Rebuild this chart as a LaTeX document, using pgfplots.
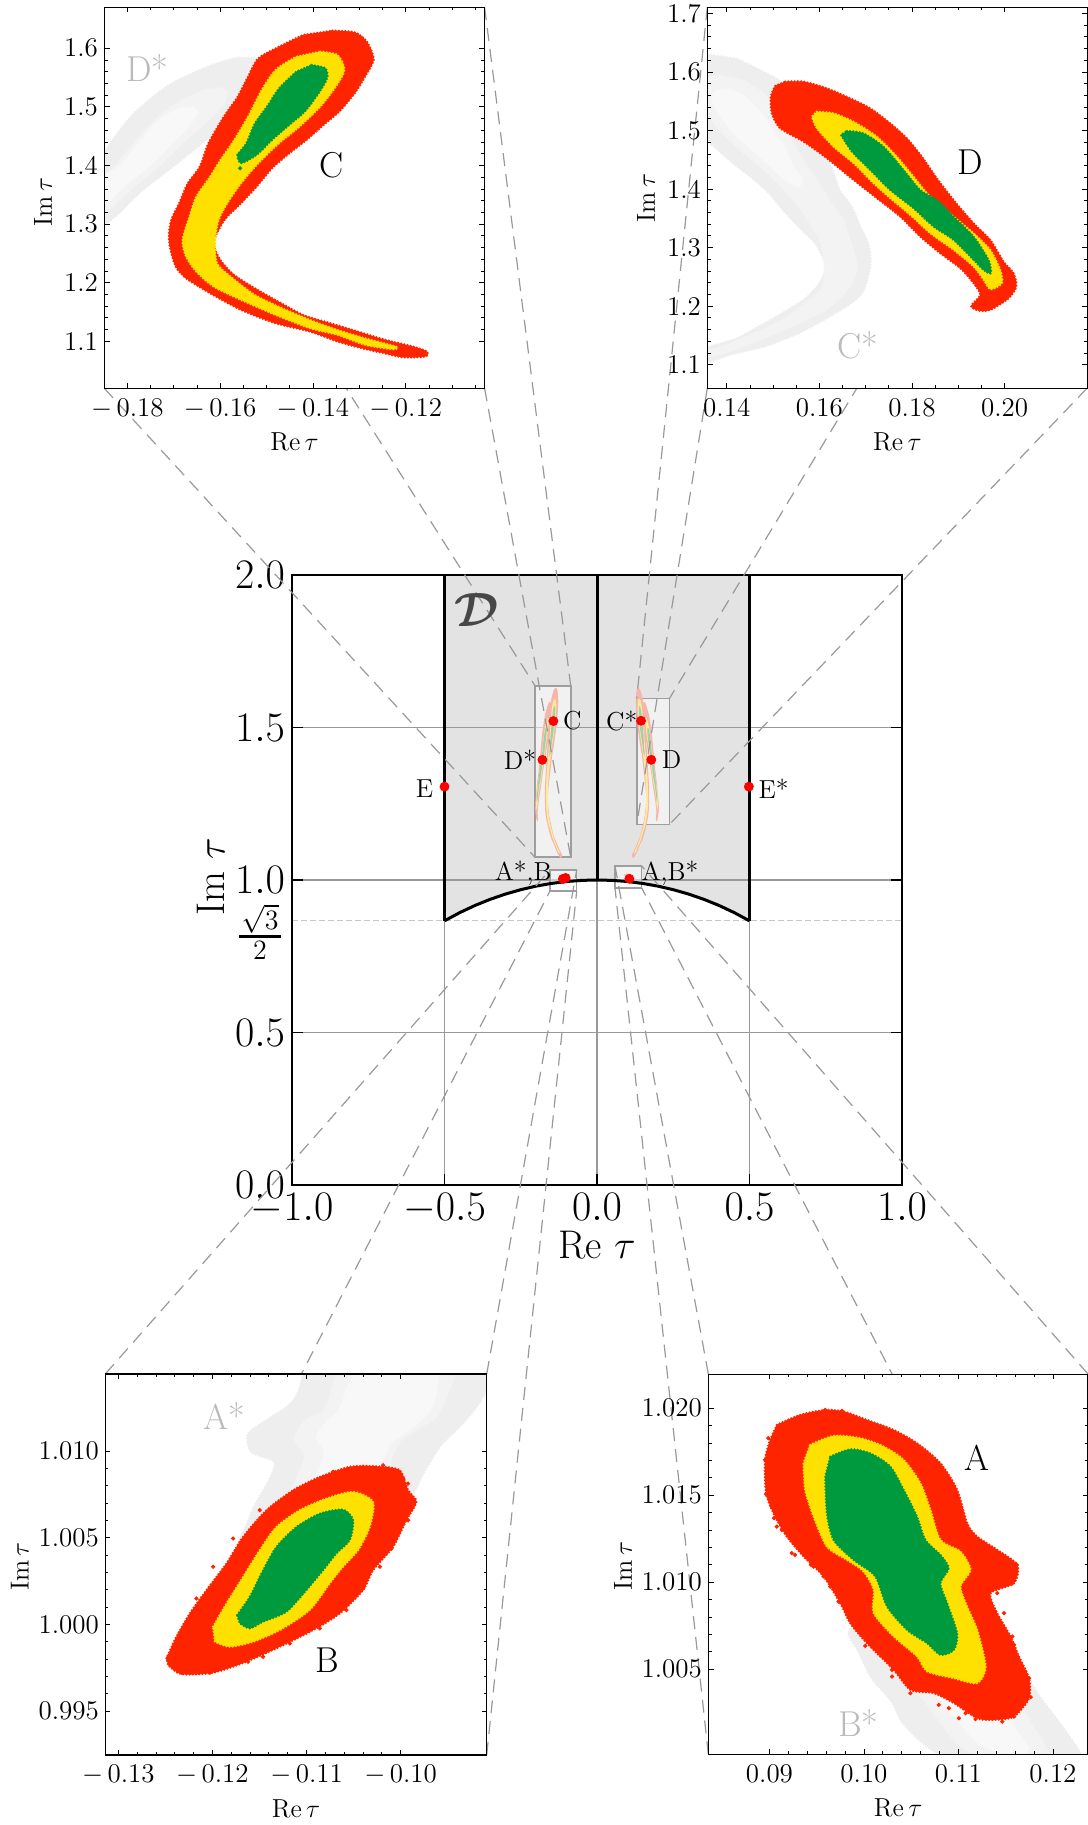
\RequirePackage{fix-cm}
\documentclass[border=0pt]{standalone}
\usepackage{amsmath}
\usepackage{pgfplots}
\usepackage{pgfplotstable}
\pgfplotsset{compat=1.18}
\newcommand{\fs}[1]{\fontsize{#1}{#1}\selectfont}
\definecolor{rr}{HTML}{FF2400}
\definecolor{yy}{HTML}{FFE100}
\definecolor{gg}{HTML}{009A3E}
\definecolor{rp}{HTML}{F6B4AB}
\definecolor{yp}{HTML}{FBEA9A}
\definecolor{gp}{HTML}{9FD2AC}
\definecolor{g1}{HTML}{EEEEEE}
\definecolor{g2}{HTML}{F3F3F3}
\definecolor{g3}{HTML}{F8F8F8}
\definecolor{ln}{HTML}{999999}

% region C
\pgfplotstableread{
x y
-.1358 1.6301
-.13098 1.6273
-.12839 1.6114
-.12690 1.5812
-.12876 1.5517
-.13098 1.5233
-.13433 1.4919
-.13730 1.4720
-.14138 1.4436
-.14510 1.4208
-.14881 1.3952
-.15215 1.3639
-.15549 1.3355
-.15846 1.3127
-.15995 1.2957
-.16143 1.2673
-.15995 1.2388
-.15698 1.2132
-.15252 1.1905
-.14807 1.1705
-.14212 1.1450
-.13618 1.1307
-.13024 1.1165
-.12430 1.1023
-.11836 1.0909
-.11539 1.0824
-.11576 1.0739
-.12059 1.0727
-.12467 1.0796
-.12950 1.0881
-.13470 1.0995
-.14064 1.1165
-.14807 1.1307
-.15549 1.1535
-.16218 1.1819
-.16737 1.2075
-.16960 1.2274
-.17072 1.2559
-.17109 1.2786
-.17057 1.3071
-.16886 1.3355
-.16700 1.3696
-.16440 1.3981
-.16255 1.4379
-.15921 1.4834
-.15623 1.5175
-.15401 1.5517
-.15178 1.5829
-.14732 1.6028
-.14212 1.6228
}\tabCr
\pgfplotstableread{
x y
-.13841 1.5943
-.13470 1.5886
-.13321 1.5630
-.13507 1.5346
-.13841 1.5005
-.14287 1.4664
-.14732 1.4379
-.15178 1.4038
-.15549 1.3696
-.15846 1.3355
-.16032 1.3071
-.16106 1.2729
-.16069 1.2331
-.15772 1.2104
-.15252 1.1791
-.14658 1.1563
-.14064 1.1364
-.13470 1.1194
-.12876 1.1051
-.12207 1.0909
-.12281 1.0864
-.12876 1.0938
-.13470 1.1108
-.14064 1.1222
-.14807 1.1449
-.15549 1.1705
-.16143 1.1933
-.16515 1.2189
-.16737 1.2445
-.16812 1.2729
-.16663 1.3127
-.16515 1.3469
-.16218 1.3810
-.15995 1.4094
-.15698 1.4436
-.15401 1.4834
-.15104 1.5289
-.14807 1.5630
-.14361 1.5858
}\tabCy
\pgfplotstableread{
x y
-.14027 1.5716
-.13730 1.5659
-.13693 1.5488
-.13878 1.5232
-.14175 1.4919
-.14510 1.4692
-.14881 1.4436
-.15215 1.4180
-.15549 1.4038
-.15623 1.4180
-.15438 1.4379
-.15252 1.4720
-.14992 1.5005
-.14732 1.5317
-.14361 1.5602
}\tabCg

% region D
\pgfplotstableread{
x y
.15261 1.5835
.15657 1.5835
.16161 1.5721
.16665 1.5550
.17097 1.5379
.17529 1.5123
.17890 1.4867
.18214 1.4554
.18538 1.4183
.18898 1.3813
.19330 1.3415
.19690 1.3130
.19979 1.2760
.20195 1.2560
.20252 1.2333
.20087 1.2133
.19690 1.1934
.19438 1.1923
.19273 1.2002
.19474 1.2190
.19330 1.2390
.19042 1.2646
.18610 1.2902
.18178 1.3187
.17746 1.3528
.17241 1.3842
.16737 1.4155
.16161 1.4525
.15657 1.4810
.15152 1.5038
.14972 1.5294
.14951 1.5579
.15044 1.5761
}\tabDr
\pgfplotstableread{
x y
.15945 1.5322
.16305 1.5294
.16737 1.5151
.17241 1.4895
.17674 1.4554
.18034 1.4212
.18394 1.3870
.18898 1.3528
.19330 1.3244
.19690 1.2959
.19906 1.2617
.19943 1.2390
.19690 1.2287
.19546 1.2447
.19330 1.2674
.18898 1.2959
.18394 1.3244
.17962 1.3557
.17529 1.3842
.17169 1.4098
.16737 1.4440
.16305 1.4724
.15945 1.5038
.15837 1.5237
}\tabDy
\pgfplotstableread{
x y
.16593 1.4992
.16953 1.4952
.17385 1.4724
.17818 1.4326
.18178 1.3984
.18538 1.3813
.18898 1.3528
.19330 1.3187
.19654 1.2788
.19705 1.2560
.19546 1.2617
.19330 1.2788
.18898 1.3130
.18466 1.3358
.18034 1.3671
.17529 1.3984
.17025 1.4383
.16701 1.4639
.16463 1.4924
}\tabDg

% region B
\pgfplotstableread{
x y
-.12489 .99804
-.12383 .99929
-.12241 1.00063
-.12064 1.00198
-.11851 1.00352
-.11674 1.00506
-.11426 1.00660
-.11143 1.00775
-.10859 1.00852
-.10541 1.00910
-.10257 1.00913
-.10009 1.00890
-.09921 1.00775
-.09832 1.00708
-.09939 1.00602
-.10080 1.00448
-.10293 1.00313
-.10399 1.00198
-.10647 1.00063
-.10930 .99967
-.11285 .99871
-.11639 .99785
-.11993 .99721
-.12329 .99713
-.12471 .99765
}\tabBr
\pgfplotstableread{
x y
-.11993 .99987
-.11851 1.00121
-.11674 1.00275
-.11497 1.00429
-.11320 1.00563
-.11072 1.00660
-.10789 1.00727
-.10505 1.00765
-.10293 1.00708
-.10328 1.00563
-.10452 1.00429
-.10612 1.00333
-.10753 1.00237
-.10966 1.00083
-.11285 .99967
-.11568 .99900
-.11816 .99871
-.11975 .99900
}\tabBy
\pgfplotstableread{
x y
-.11738 1.00054
-.11603 1.00160
-.11462 1.00313
-.11320 1.00448
-.11107 1.00563
-.10859 1.00640
-.10612 1.00663
-.10505 1.00602
-.10541 1.00487
-.10682 1.00410
-.10824 1.00313
-.11001 1.00198
-.11214 1.00073
-.11462 1.00015
-.11603 .99977
-.11710 1.00006
}\tabBg
\pgfplotstableread{
x y
-.12471 .99810
-.12393 .99765
-.12329 .99721
-.12028 .99721
-.11621 .99785
-.11178 .99890
-.10399 1.00208
-.10222 1.00333
-.10098 1.00438
-.09850 1.00708
-.09974 1.00842
-.10399 1.00910
-.11851 .99756
-.11462 .99813
-.10859 .99977
-.10576 1.00083
-.10399 1.00237
-.10257 1.00352
-.09921 1.00602
-.09885 1.00698
-.09921 1.00813
-.10187 1.00919
-.10718 1.00881
-.11143 1.00765
-.11497 1.00660
-.11780 1.00496
-.11993 1.00333
-.12170 1.00150
-.12347 .99948
}\tabBo

% region A
\pgfplotstableread{
x y
.09077 1.01904
.09324 1.01962
.09590 1.01990
.09784 1.01981
.10032 1.01933
.10315 1.01875
.10562 1.01799
.10810 1.01684
.10987 1.01531
.11093 1.01339
.11199 1.01262
.11411 1.01186
.11624 1.01100
.11588 1.00994
.11341 1.00937
.11411 1.00822
.11553 1.00688
.11641 1.00573
.11747 1.00448
.11747 1.00333
.11588 1.00228
.11376 1.00209
.11199 1.00218
.10952 1.00305
.10739 1.00362
.10492 1.00381
.10315 1.00496
.10032 1.00649
.09855 1.00764
.09749 1.00879
.09572 1.01033
.09360 1.01148
.09183 1.01262
.09059 1.01377
.08964 1.01511
.08953 1.01703
.09006 1.01818
}\tabAr
\pgfplotstableread{
x y
.09430 1.01789
.09678 1.01841
.09961 1.01828
.10209 1.01780
.10421 1.01703
.10598 1.01569
.10704 1.01416
.10810 1.01243
.11022 1.01176
.11128 1.01071
.11022 1.00975
.11093 1.00860
.11199 1.00726
.11288 1.00515
.11199 1.00420
.10952 1.00448
.10669 1.00487
.10562 1.00573
.10315 1.00688
.10103 1.00822
.10103 1.00956
.09996 1.01061
.09820 1.01128
.09607 1.01205
.09466 1.01377
.09377 1.01531
.09360 1.01684
}\tabAy
\pgfplotstableread{
x y
.09643 1.01722
.09855 1.01764
.10067 1.01741
.10279 1.01665
.10421 1.01531
.10562 1.01377
.10651 1.01243
.10810 1.01157
.10898 1.01080
.10810 1.00994
.10881 1.00879
.10987 1.00707
.10952 1.00611
.10810 1.00582
.10669 1.00649
.10456 1.00726
.10244 1.00860
.10120 1.01033
.09890 1.01128
.09678 1.01243
.09607 1.01397
.09590 1.01607
}\tabAg
\pgfplotstableread{
x y
.08964 1.01506
.09048 1.01368
.09130 1.01301
.09271 1.01157
.09438 1.01100
.09572 1.01033
.09731 1.00889
.10014 1.00634
.10297 1.00496
.10492 1.00362
.10792 1.00295
.11005 1.00218
.11181 1.00213
.11464 1.00199
.11588 1.00228
.11765 1.00339
.11747 1.00448
.11624 1.00573
.11571 1.00688
.11482 1.00822
.11571 1.00994
.11617 1.01100
.09590 1.01990
.08953 1.01703
.11500 1.01119
.11588 1.01013
.11411 1.00937
.11588 1.00640
.11624 1.00525
.11694 1.00381
.11500 1.00247
.11075 1.00247
.10898 1.00276
.10297 1.00458
.09837 1.00822
.09643 1.00975
.09466 1.01090
.09236 1.01167
.09077 1.01320
.09024 1.01435
.08988 1.01828
.09767 1.01985
.11358 1.01186
}\tabAo

\pgfplotstableread{
x y
-.5 .8660
-.45 .8930
-.4 .9165
-.35 .9367
-.3 .9539
-.25 .9682
-.2 .9798
-.15 .9887
-.1 .9950
-.05 .9987
0 1
.05 .9987
.1 .9950
.15 .9887
.2 .9798
.25 .9682
.3 .9539
.35 .9367
.4 .9165
.45 .8930
.5 .8660
}\tabArc

% a region in a panel: fill and a dotted, speckled edge
\pgfplotsset{blobstyle/.style={fill=#1,draw=#1,smooth,tension=.45,line width=1.25pt,line cap=round,dash pattern=on 0pt off 1.6pt}}
\newcommand{\blob}[2]{\addplot[blobstyle=#2] table {#1} -- cycle;}
\newcommand{\blobm}[2]{\addplot[blobstyle=#2] table[x expr=-\thisrow{x}] {#1} -- cycle;}
\newcommand{\mini}[2]{\addplot[fill=#2,draw=none,smooth,tension=.45] table {#1} -- cycle;}
\newcommand{\minim}[2]{\addplot[fill=#2,draw=none,smooth,tension=.45] table[x expr=-\thisrow{x}] {#1} -- cycle;}

\pgfplotsset{
  panel/.style={
    scale only axis, axis on top, clip=true,
    axis background/.style={fill=white},
    axis line style={line width=.55pt},
    tick align=inside, xtick pos=both, ytick pos=both,
    major tick length=2.6pt, minor tick length=1.6pt,
    every tick/.style={black,line width=.4pt},
    minor tick num=4,
    tick label style={font=\fs{13.5}},
    yticklabel style={inner sep=0pt,xshift=-3pt},
    xticklabel style={inner sep=0pt,yshift=-5pt},
  },
  pxlabel/.style={every axis x label/.style={at={(axis description cs:0.5,#1)},anchor=center,font=\fs{13}}},
  pylabel/.style 2 args={every axis y label/.style={at={(axis description cs:#1,#2)},rotate=90,anchor=center,font=\fs{13}}},
}

\begin{document}
\begin{tikzpicture}
\path[use as bounding box] (0pt,0pt) rectangle (543.5pt,912.5pt);

% central fundamental domain
\begin{axis}[
  at={(146pt,320pt)}, anchor=south west, scale only axis, width=305pt, height=305pt,
  xmin=-1, xmax=1, ymin=0, ymax=2, axis on top,
  xtick={-1,-.5,0,.5,1}, xticklabels={$-1.0$,$-0.5$,$0.0$,$0.5$,$1.0$},
  ytick={0,.5,1,1.5,2}, yticklabels={$0.0$,$0.5$,$1.0$,$1.5$,$2.0$},
  tick align=inside, xtick pos=both, ytick pos=both,
  major tick length=5.5pt,
  axis line style={line width=.8pt},
  every tick/.style={black,line width=.8pt},
  tick label style={font=\fs{21}},
  yticklabel style={inner sep=0pt,xshift=-3.3pt},
  xticklabel style={inner sep=0pt,yshift=-3.8pt},
  every axis x label/.style={at={(axis description cs:0.5,-0.098)},anchor=center},
  every axis y label/.style={at={(axis description cs:-0.133,0.505)},rotate=90,anchor=center},
  label style={font=\fs{20}},
  xlabel={Re $\tau$}, ylabel={Im $\tau$},
]
\addplot[fill=black!11,draw=none] coordinates {(-.5,2)(.5,2)(.5,.866)(.45,.893)(.4,.9165)(.35,.9367)(.3,.9539)(.25,.9682)(.2,.9798)(.15,.9887)(.1,.995)(.05,.9987)(0,1)(-.05,.9987)(-.1,.995)(-.15,.9887)(-.2,.9798)(-.25,.9682)(-.3,.9539)(-.35,.9367)(-.4,.9165)(-.45,.893)(-.5,.866)} -- cycle;
\addplot[ln,line width=.95pt] coordinates {(-1,.5)(1,.5)};
\addplot[ln,line width=.95pt] coordinates {(-1,1)(1,1)};
\addplot[ln,line width=.95pt] coordinates {(-1,1.5)(1,1.5)};
\addplot[ln,line width=.95pt] coordinates {(-.5,0)(-.5,.866)};
\addplot[ln,line width=.95pt] coordinates {(.5,0)(.5,.866)};
\addplot[ln,line width=.95pt] coordinates {(0,0)(0,1)};
\addplot[black!22,line width=.6pt,dash pattern=on 3pt off 1.5pt] coordinates {(-1,.866)(1,.866)};
% zoom boxes
\addplot[draw=black!38,line width=.8pt,fill=white,fill opacity=.5,draw opacity=1] coordinates {(-.2033,1.0744)(-.0862,1.0744)(-.0862,1.637)(-.2033,1.637)} -- cycle;
\addplot[draw=black!38,line width=.8pt,fill=white,fill opacity=.5,draw opacity=1] coordinates {(.1302,1.1813)(.2371,1.1813)(.2371,1.5944)(.1302,1.5944)} -- cycle;
\addplot[draw=black!38,line width=.8pt,fill=white,fill opacity=.5,draw opacity=1] coordinates {(-.1541,.964)(-.0666,.964)(-.0666,1.0328)(-.1541,1.0328)} -- cycle;
\addplot[draw=black!38,line width=.8pt,fill=white,fill opacity=.5,draw opacity=1] coordinates {(.059,.974)(.1465,.974)(.1465,1.0459)(.059,1.0459)} -- cycle;
% small copies of the regions
\minim{\tabDr}{rp}\minim{\tabDy}{yp}\minim{\tabDg}{gp}
\mini{\tabCr}{rp}\mini{\tabCy}{yp}\mini{\tabCg}{gp}
\minim{\tabCr}{rp}\minim{\tabCy}{yp}\minim{\tabCg}{gp}
\mini{\tabDr}{rp}\mini{\tabDy}{yp}\mini{\tabDg}{gp}
\minim{\tabAr}{rp}\minim{\tabAy}{yp}\minim{\tabAg}{gp}
\mini{\tabBr}{rp}\mini{\tabBy}{yp}\mini{\tabBg}{gp}
\minim{\tabBr}{rp}\minim{\tabBy}{yp}\minim{\tabBg}{gp}
\mini{\tabAr}{rp}\mini{\tabAy}{yp}\mini{\tabAg}{gp}
% boundary of the domain
\addplot[black,line width=1.5pt] table {\tabArc};
\addplot[black,line width=1.5pt] coordinates {(-.5,.866)(-.5,2)};
\addplot[black,line width=1.5pt] coordinates {(.5,.866)(.5,2)};
\addplot[black,line width=1.5pt] coordinates {(0,1)(0,2)};
\end{axis}

% connectors, in page pixels
\begin{scope}[shift={(0pt,912.5pt)},x=.5pt,y=-.5pt,ln,line width=.6pt,dash pattern=on 6.5pt off 4pt]
\draw (104.3,7.3)--(535,685.7);
\draw (484.6,7.3)--(570.7,685.7);
\draw (104.3,388.3)--(535,857.3);
\draw (484.6,388.3)--(570.7,857.3);
\draw (707.3,7.3)--(636.7,698.7);
\draw (1087,7.3)--(669.3,698.7);
\draw (707.3,388.3)--(636.7,824.7);
\draw (1087,388.3)--(669.3,824.7);
\draw (105.3,1374)--(550,870);
\draw (486.7,1374)--(576.7,870);
\draw (105.3,1755)--(550,891);
\draw (486.7,1755)--(576.7,891);
\draw (708.3,1374)--(615,866);
\draw (1088,1374)--(641.7,866);
\draw (708.3,1754.3)--(615,888);
\draw (1088,1754.3)--(641.7,888);
\end{scope}

% marked points
\begin{axis}[
  at={(146pt,320pt)}, anchor=south west, scale only axis, width=305pt, height=305pt,
  xmin=-1, xmax=1, ymin=0, ymax=2, hide axis, clip=false,
]
\addplot[only marks,mark=*,mark size=2.25pt,mark options={draw=red,fill=red}] coordinates {
  (-.143,1.521)(.1443,1.522)(-.179,1.394)(.178,1.394)
  (-.5,1.306)(.498,1.306)(.106,1.004)(-.112,1.0035)(-.103,1.0065)};
\end{axis}

% panel C
\begin{axis}[panel,
  at={(52.15pt,718.35pt)}, anchor=south west, width=190.15pt, height=190.5pt,
  xmin=-.18498, xmax=-.103, ymin=1.0198, ymax=1.670,
  xtick={-.18,-.16,-.14,-.12,-.10}, xticklabels={$-\,0.18$,$-\,0.16$,$-\,0.14$,$-\,0.12$,{}},
  ytick={1.1,1.2,1.3,1.4,1.5,1.6}, yticklabels={1.1,1.2,1.3,1.4,1.5,1.6},
  minor x tick num=3,
  pxlabel=-0.14, pylabel={-0.161}{0.489},
  xlabel={Re\,$\tau$}, ylabel={Im\,$\tau$},
]
\blobm{\tabDr}{g1}\blobm{\tabDy}{g2}\blobm{\tabDg}{g3}
\blob{\tabCr}{rr}\blob{\tabCy}{yy}\blob{\tabCg}{gg}
\addplot[only marks,mark=*,mark size=.85pt,mark options={draw=gg,fill=gg}] coordinates {(-.15608,1.418)(-.15571,1.3952)};
\end{axis}

% panel D
\begin{axis}[panel,
  at={(353.65pt,718.35pt)}, anchor=south west, width=190.1pt, height=190.5pt,
  xmin=.1358, xmax=.2179, ymin=1.0596, ymax=1.7105,
  xtick={.14,.16,.18,.20}, xticklabels={0.14,0.16,0.18,0.20},
  ytick={1.1,1.2,1.3,1.4,1.5,1.6,1.7}, yticklabels={1.1,1.2,1.3,1.4,1.5,1.6,1.7},
  minor x tick num=3,
  pxlabel=-0.14, pylabel={-0.161}{0.499},
  xlabel={Re\,$\tau$}, ylabel={Im\,$\tau$},
]
\blobm{\tabCr}{g1}\blobm{\tabCy}{g2}\blobm{\tabCg}{g3}
\blob{\tabDr}{rr}\blob{\tabDy}{yy}\blob{\tabDg}{gg}
\end{axis}

% panel B
\begin{axis}[panel,
  at={(52.65pt,35pt)}, anchor=south west, width=190.7pt, height=190.5pt,
  xmin=-.13138, xmax=-.09086, ymin=.99246, ymax=1.01446,
  xtick={-.13,-.12,-.11,-.10}, xticklabels={$-\,0.13$,$-\,0.12$,$-\,0.11$,$-\,0.10$},
  ytick={.995,1,1.005,1.01}, yticklabels={0.995,1.000,1.005,1.010},
  pxlabel=-0.142, pylabel={-0.224}{0.495},
  xlabel={Re\,$\tau$}, ylabel={Im\,$\tau$},
]
\blobm{\tabAr}{g1}\blobm{\tabAy}{g2}\blobm{\tabAg}{g3}
\blob{\tabBr}{rr}\blob{\tabBy}{yy}\blob{\tabBg}{gg}
\addplot[only marks,mark=*,mark size=.85pt,mark options={draw=rr,fill=rr}] table {\tabBo};
\end{axis}

% panel A
\begin{axis}[panel,
  at={(354.15pt,35.35pt)}, anchor=south west, width=189.85pt, height=190pt,
  xmin=.08353, xmax=.12371, ymin=1.00011, ymax=1.02195,
  xtick={.09,.10,.11,.12}, xticklabels={0.09,0.10,0.11,0.12},
  ytick={1.005,1.01,1.015,1.02}, yticklabels={1.005,1.010,1.015,1.020},
  pxlabel=-0.142, pylabel={-0.225}{0.495},
  xlabel={Re\,$\tau$}, ylabel={Im\,$\tau$},
]
\blobm{\tabBr}{g1}\blobm{\tabBy}{g2}\blobm{\tabBg}{g3}
\blob{\tabAr}{rr}\blob{\tabAy}{yy}\blob{\tabAg}{gg}
\addplot[only marks,mark=*,mark size=.85pt,mark options={draw=rr,fill=rr}] table {\tabAo};
\end{axis}

% labels, in page pixels
\begin{scope}[shift={(0pt,912.5pt)},x=.5pt,y=-.5pt]
\node[font=\fs{18}] at (331.6,165.7) {C};
\node[font=\fs{18},text=black!27] at (147.4,67.7) {D*};
\node[font=\fs{18}] at (970.7,162.7) {D};
\node[font=\fs{18},text=black!27] at (857.7,345.7) {C*};
\node[font=\fs{18}] at (327.7,1660.7) {B};
\node[font=\fs{18},text=black!27] at (224,1415.7) {A*};
\node[font=\fs{18}] at (976.7,1458) {A};
\node[font=\fs{18},text=black!27] at (858.3,1723) {B*};
\node[font=\fs{13}] at (572.3,720.7) {C};
\node[font=\fs{13}] at (520,760) {D*};
\node[font=\fs{13}] at (621.7,720.7) {C*};
\node[font=\fs{13}] at (671.7,760) {D};
\node[font=\fs{13}] at (424.5,788.7) {E};
\node[font=\fs{13}] at (773.7,788.7) {E*};
\node[font=\fs{13}] at (523.3,873.3) {A*,B};
\node[font=\fs{13}] at (670,873.3) {A,B*};
\node[font=\fs{24},text=black!72] at (477,610) {{\boldmath$\mathcal{D}$}};
\node[font=\fs{20},anchor=base,inner sep=0pt] at (260,946) {$\frac{\sqrt{3}}{2}$};
\draw[black,line width=1.35pt] (239.3,936.3)--(281,936.3);
\end{scope}
\end{tikzpicture}
\end{document}
